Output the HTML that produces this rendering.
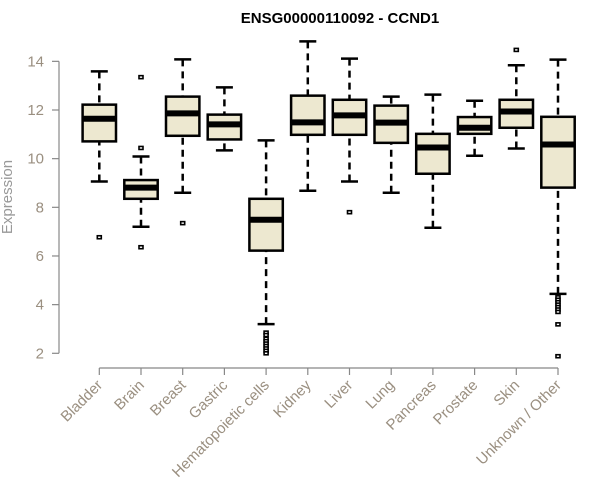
<!DOCTYPE html>
<html><head><meta charset="utf-8"><style>
body{margin:0;background:#fff;}
svg{display:block;font-family:"Liberation Sans",sans-serif;}
</style></head><body>
<svg id="chart" width="600" height="500" viewBox="0 0 600 500">
<text x="340" y="23" text-anchor="middle" font-weight="bold" font-size="15">ENSG00000110092 - CCND1</text>
<text transform="translate(12,197) rotate(-90)" text-anchor="middle" font-size="15" fill="#999">Expression</text>
<g id="axes"></g><g id="boxes"></g>
</svg>
<script>
const categories=["Bladder","Brain","Breast","Gastric","Hematopoietic cells","Kidney","Liver","Lung","Pancreas","Prostate","Skin","Unknown / Other"];
const lowWhisker=[9.06,7.2,8.6,10.34,3.2,8.68,9.06,8.6,7.16,10.12,10.42,4.44];
const q1=[10.71,8.35,10.94,10.79,6.22,10.98,10.98,10.65,9.38,11.02,11.27,8.81];
const medians=[11.64,8.81,11.86,11.41,7.49,11.49,11.78,11.48,10.46,11.27,11.94,10.58];
const q3=[12.22,9.12,12.55,11.81,8.35,12.59,12.42,12.18,11.02,11.71,12.42,11.72];
const highWhisker=[13.59,10.09,14.08,12.93,10.75,14.82,14.11,12.55,12.63,12.38,13.84,14.07];
const outliers=[[6.77],[13.35,10.44,6.36],[7.35],[],[2.85,2.75,2.6,2.5,2.4,2.3,2.2,2.1,2.0],[],[7.8],[],[],[],[14.47],[4.3,4.2,4.1,4.0,3.9,3.8,3.7,3.19,1.88]];
const yTicks=[2,4,6,8,10,12,14];
const NS="http://www.w3.org/2000/svg";
function y(v){return 353.3-(v-2)*24.33;}
function x(i){return 99.3+i*41.7;}
function mk(t,a,p){const e=document.createElementNS(NS,t);for(const k in a)e.setAttribute(k,a[k]);p.appendChild(e);return e;}
const ax=document.getElementById('axes'),bx=document.getElementById('boxes');
let l=mk('line',{x1:59,x2:59,y1:y(14),y2:y(2),stroke:'#888','stroke-width':1.2},ax);


yTicks.forEach(v=>{
 const t=mk('line',{x1:52,x2:59,y1:y(v),y2:y(v),stroke:'#888','stroke-width':1.2},ax);
 
 
 const tx=mk('text',{x:44,y:y(v)+5,'text-anchor':'end','font-size':15,fill:'#9a8f80'},ax);
 tx.textContent=v;
 
 
});
l=mk('line',{x1:x(0),x2:x(categories.length-1),y1:368,y2:368,stroke:'#888','stroke-width':1.2},ax);


categories.forEach((c,i)=>{
 const cx=x(i);
 const t=mk('line',{x1:cx,x2:cx,y1:368,y2:375,stroke:'#888','stroke-width':1.2},ax);
 
 
 const tx=mk('text',{x:cx+4,y:386,'text-anchor':'end','font-size':15,fill:'#9a8f80',transform:`rotate(-45 ${cx+4} 386)`},ax);
 tx.textContent=c;
 
 
 const g=mk('g',{},bx);
 
 
 const ds={stroke:'#000','stroke-width':2.5,'stroke-dasharray':'7,5'};
 mk('line',Object.assign({x1:cx,x2:cx,y1:y(highWhisker[i]),y2:y(q3[i])},ds),g);
 mk('line',Object.assign({x1:cx,x2:cx,y1:y(lowWhisker[i]),y2:y(q1[i])},ds),g);
 mk('line',{x1:cx-8.5,x2:cx+8.5,y1:y(highWhisker[i]),y2:y(highWhisker[i]),stroke:'#000','stroke-width':2.5},g);
 mk('line',{x1:cx-8.5,x2:cx+8.5,y1:y(lowWhisker[i]),y2:y(lowWhisker[i]),stroke:'#000','stroke-width':2.5},g);
 mk('rect',{x:cx-16.7,y:y(q3[i]),width:33.4,height:y(q1[i])-y(q3[i]),fill:'#ede8d0',stroke:'#000','stroke-width':2.5},g);
 mk('line',{x1:cx-16.7,x2:cx+16.7,y1:y(medians[i]),y2:y(medians[i]),stroke:'#000','stroke-width':6},g);
 outliers[i].forEach(o=>{mk('rect',{x:cx-2,y:y(o)-1.5,width:4,height:3,fill:'#fff',stroke:'#000','stroke-width':1.6},g);});
});
</script>
</body></html>
